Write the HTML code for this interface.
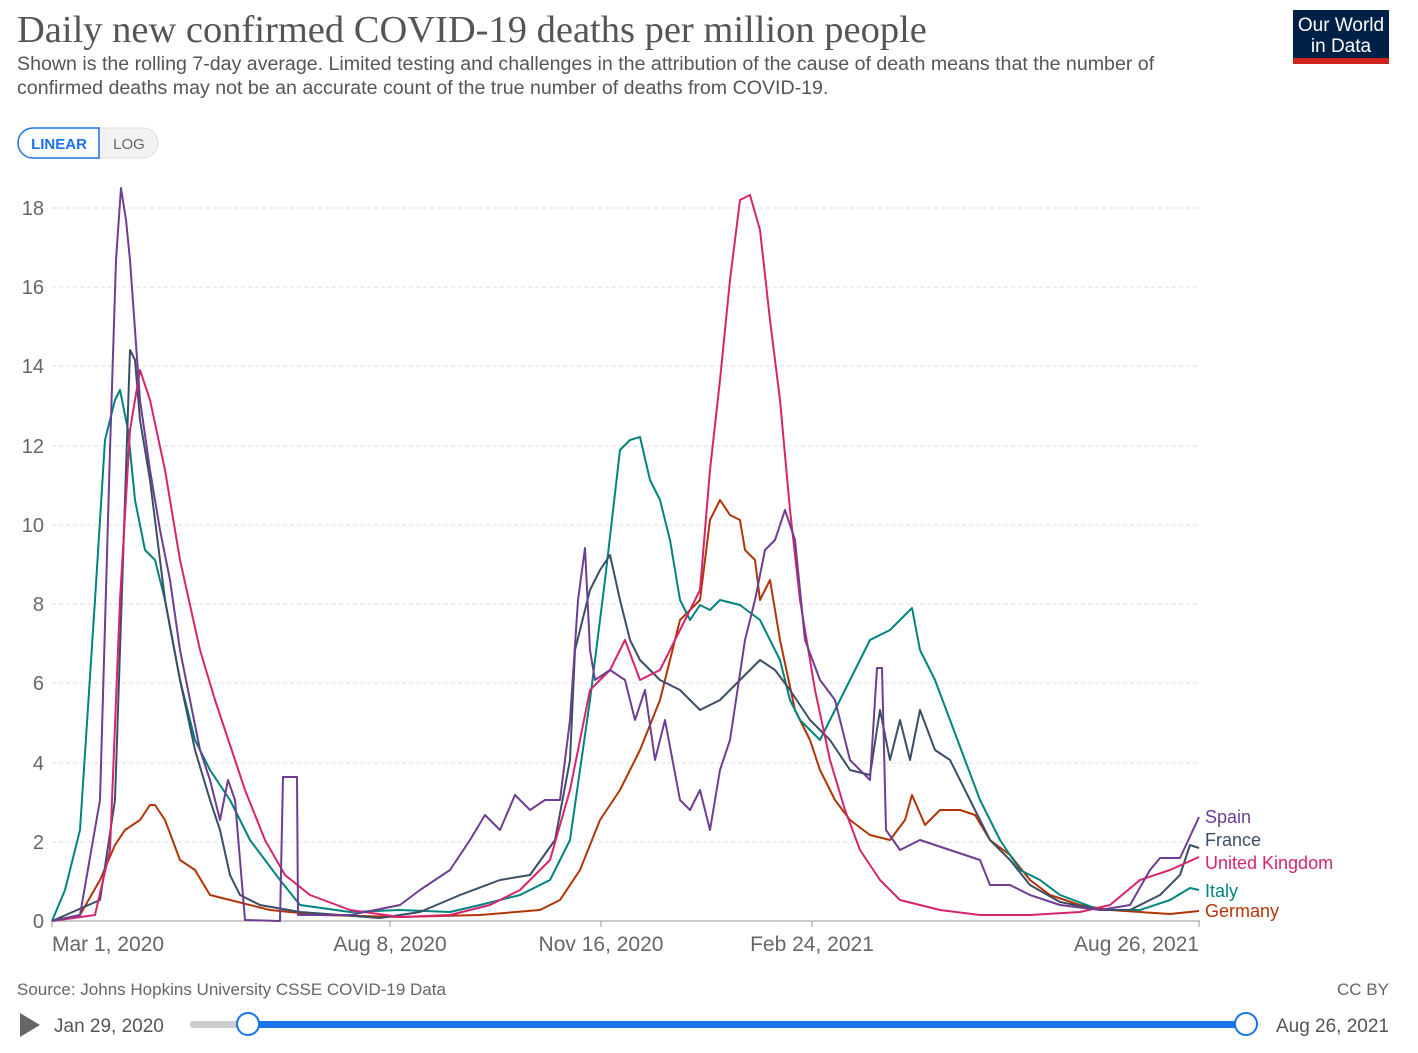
<!DOCTYPE html>
<html><head><meta charset="utf-8"><style>
body{margin:0;background:#fff;width:1418px;height:1048px;overflow:hidden;font-family:"Liberation Sans",sans-serif}
</style></head><body>
<svg width="1418" height="1048" xmlns="http://www.w3.org/2000/svg" font-family="Liberation Sans, sans-serif">
<text x="17" y="42" font-family="Liberation Serif, serif" font-size="38.5" fill="#555">Daily new confirmed COVID-19 deaths per million people</text>
<text x="17" y="70" font-size="19.6" fill="#555">Shown is the rolling 7-day average. Limited testing and challenges in the attribution of the cause of death means that the number of</text>
<text x="17" y="94" font-size="19.6" fill="#555">confirmed deaths may not be an accurate count of the true number of deaths from COVID-19.</text>
<rect x="1293" y="10" width="96" height="54" fill="#002147"/>
<rect x="1293" y="58" width="96" height="6" fill="#ce261e"/>
<text x="1341" y="31" font-size="19" fill="#fff" text-anchor="middle">Our World</text>
<text x="1341" y="52" font-size="19" fill="#fff" text-anchor="middle">in Data</text>
<rect x="18" y="128" width="140" height="30" rx="15" fill="#f2f2f2" stroke="#ddd"/>
<path d="M33 128 H99 V158 H33 A15 15 0 0 1 33 128Z" fill="#fff" stroke="#1a73e8" stroke-width="1.5"/>
<text x="59" y="149" font-size="15" font-weight="bold" fill="#1a73e8" text-anchor="middle">LINEAR</text>
<text x="129" y="149" font-size="15" fill="#666" text-anchor="middle">LOG</text>
<g stroke="#ddd" stroke-dasharray="4,3">
<line x1="52" x2="1200" y1="208" y2="208"/><line x1="52" x2="1200" y1="287" y2="287"/><line x1="52" x2="1200" y1="366" y2="366"/><line x1="52" x2="1200" y1="446" y2="446"/><line x1="52" x2="1200" y1="525" y2="525"/><line x1="52" x2="1200" y1="604" y2="604"/><line x1="52" x2="1200" y1="683" y2="683"/><line x1="52" x2="1200" y1="763" y2="763"/><line x1="52" x2="1200" y1="842" y2="842"/>
</g>
<line x1="52" x2="1200" y1="921" y2="921" stroke="#999"/>
<g stroke="#999"><line x1="52" x2="52" y1="921" y2="927"/><line x1="390" x2="390" y1="921" y2="927"/><line x1="601" x2="601" y1="921" y2="927"/><line x1="812" x2="812" y1="921" y2="927"/><line x1="1199" x2="1199" y1="921" y2="927"/></g>
<g font-size="20" fill="#666" text-anchor="end">
<text x="44" y="215">18</text><text x="44" y="294">16</text><text x="44" y="373">14</text><text x="44" y="453">12</text><text x="44" y="532">10</text><text x="44" y="611">8</text><text x="44" y="690">6</text><text x="44" y="770">4</text><text x="44" y="849">2</text><text x="44" y="928">0</text>
</g>
<g font-size="21" fill="#666">
<text x="52" y="951">Mar 1, 2020</text><text x="390" y="951" text-anchor="middle">Aug 8, 2020</text><text x="601" y="951" text-anchor="middle">Nov 16, 2020</text><text x="812" y="951" text-anchor="middle">Feb 24, 2021</text><text x="1199" y="951" text-anchor="end">Aug 26, 2021</text>
</g>
<g fill="none" stroke-width="2" stroke-linejoin="round">
<polyline stroke="#b13507" points="52,921 80,915 100,880 115,845 125,830 140,820 150,805 155,805 165,820 180,860 195,870 210,895 230,900 270,910 320,915 400,917 480,915 540,910 560,900 580,870 600,820 620,790 640,750 660,700 680,620 700,600 710,520 720,500 730,515 740,520 745,550 755,560 760,600 770,580 780,640 795,710 810,740 820,770 835,800 850,820 870,835 890,840 905,820 912,795 925,825 940,810 960,810 975,815 990,840 1010,855 1030,880 1050,895 1080,905 1110,910 1140,912 1170,914 1199,911"/>
<polyline stroke="#00847e" points="52,921 65,890 80,830 95,600 105,440 115,400 120,390 128,430 135,500 145,550 155,560 165,600 180,680 195,740 210,770 230,800 250,840 280,880 300,905 350,912 400,910 450,912 480,905 520,895 550,880 570,840 590,700 605,580 620,450 630,440 640,437 650,480 660,500 670,540 680,600 690,620 700,605 710,610 720,600 740,605 760,620 780,660 790,700 800,720 820,740 835,710 850,680 870,640 890,630 900,620 912,608 920,650 935,680 950,720 965,760 980,800 1000,840 1020,870 1040,880 1060,895 1100,910 1140,910 1170,900 1190,888 1199,890"/>
<polyline stroke="#3c4e66" points="52,921 100,900 115,800 125,500 130,350 135,360 140,420 150,480 165,600 180,680 195,750 210,800 220,830 230,875 240,895 260,905 300,912 380,918 420,912 460,895 500,880 530,875 555,840 570,760 575,650 590,590 600,570 610,555 620,600 630,640 640,660 660,680 680,690 700,710 720,700 740,680 760,660 775,670 790,690 810,720 830,740 850,770 870,775 880,710 890,760 900,720 910,760 920,710 935,750 950,760 970,800 990,840 1010,860 1030,885 1060,902 1100,910 1130,910 1160,895 1180,875 1190,845 1199,848"/>
<polyline stroke="#d6246e" points="52,921 95,915 110,850 120,600 130,430 140,370 150,400 165,470 180,560 200,650 215,700 230,745 245,790 265,840 285,875 310,895 350,910 400,917 450,915 490,905 520,890 550,860 570,790 590,690 610,670 625,640 640,680 660,670 680,630 700,590 710,470 720,380 730,280 740,200 750,195 760,230 770,320 780,400 790,510 800,600 815,690 830,760 845,810 860,850 880,880 900,900 940,910 980,915 1030,915 1080,912 1110,905 1140,880 1170,870 1199,857"/>
<polyline stroke="#6d3e91" points="52,921 80,915 100,800 110,450 116,260 121,188 126,220 130,260 140,400 150,470 160,530 170,580 180,650 190,700 200,750 210,780 220,820 228,780 235,800 245,920 280,921 283,777 297,777 298,915 350,915 400,905 420,890 450,870 470,840 485,815 500,830 515,795 530,810 545,800 560,800 570,720 578,600 585,548 590,650 595,680 610,670 625,680 635,720 645,690 655,760 665,720 680,800 690,810 700,790 710,830 720,770 730,740 745,640 755,600 765,550 775,540 785,510 795,540 805,640 820,680 835,700 850,760 870,780 877,668 882,668 886,830 900,850 920,840 950,850 980,860 990,885 1010,885 1030,895 1060,905 1100,910 1130,905 1150,870 1160,858 1180,858 1199,817"/>
</g>
<g font-size="18">
<text x="1205" y="823" fill="#6d3e91">Spain</text>
<text x="1205" y="846" fill="#3c4e66">France</text>
<text x="1205" y="869" fill="#d6246e">United Kingdom</text>
<text x="1205" y="897" fill="#00847e">Italy</text>
<text x="1205" y="917" fill="#b13507">Germany</text>
</g>
<text x="17" y="995" font-size="17" fill="#666">Source: Johns Hopkins University CSSE COVID-19 Data</text>
<text x="1389" y="995" font-size="17" fill="#666" text-anchor="end">CC BY</text>
<path d="M20 1013 L40 1025 L20 1037Z" fill="#666"/>
<text x="54" y="1032" font-size="19" fill="#555">Jan 29, 2020</text>
<rect x="190" y="1021" width="1056" height="7" rx="3" fill="#ccc"/>
<rect x="248" y="1021" width="998" height="7" fill="#1a73e8"/>
<circle cx="248" cy="1024" r="11" fill="#fff" stroke="#1a73e8" stroke-width="2"/>
<circle cx="1246" cy="1024" r="11" fill="#fff" stroke="#1a73e8" stroke-width="2"/>
<text x="1389" y="1032" font-size="19" fill="#555" text-anchor="end">Aug 26, 2021</text>
</svg>
</body></html>
